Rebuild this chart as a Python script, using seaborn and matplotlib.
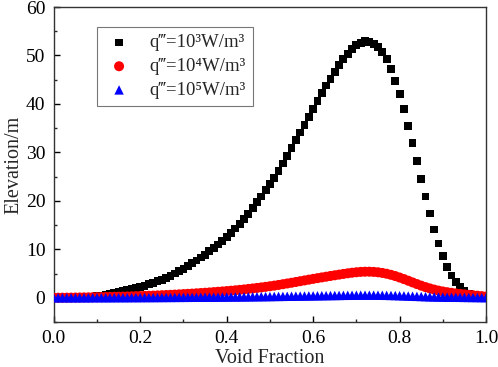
import numpy as np
import pandas as pd
import matplotlib
matplotlib.use("Agg")
import matplotlib.pyplot as plt
import seaborn as sns
from matplotlib.ticker import MultipleLocator

void_fraction = [0.00, 0.01, 0.02, 0.03, 0.04, 0.05, 0.06, 0.07, 0.08, 0.09,
                 0.10, 0.11, 0.12, 0.13, 0.14, 0.15, 0.16, 0.17, 0.18, 0.19,
                 0.20, 0.21, 0.22, 0.23, 0.24, 0.25, 0.26, 0.27, 0.28, 0.29,
                 0.30, 0.31, 0.32, 0.33, 0.34, 0.35, 0.36, 0.37, 0.38, 0.39,
                 0.40, 0.41, 0.42, 0.43, 0.44, 0.45, 0.46, 0.47, 0.48, 0.49,
                 0.50, 0.51, 0.52, 0.53, 0.54, 0.55, 0.56, 0.57, 0.58, 0.59,
                 0.60, 0.61, 0.62, 0.63, 0.64, 0.65, 0.66, 0.67, 0.68, 0.69,
                 0.70, 0.71, 0.72, 0.73, 0.74, 0.75, 0.76, 0.77, 0.78, 0.79,
                 0.80, 0.81, 0.82, 0.83, 0.84, 0.85, 0.86, 0.87, 0.88, 0.89,
                 0.90, 0.91, 0.92, 0.93, 0.94, 0.95, 0.96, 0.97, 0.98, 0.99, 1.00]

elev_q1e3 = [0.00, 0.00, 0.01, 0.02, 0.03, 0.05, 0.08, 0.12, 0.17, 0.25,
             0.35, 0.45, 0.60, 0.80, 1.00, 1.20, 1.40, 1.60, 1.80, 2.00,
             2.20, 2.50, 2.80, 3.10, 3.40, 3.70, 4.10, 4.50, 5.00, 5.50,
             6.00, 6.50, 7.10, 7.70, 8.30, 8.90, 9.60, 10.3, 11.0, 11.7,
             12.5, 13.4, 14.3, 15.3, 16.3, 17.3, 18.5, 19.7, 20.9, 22.2,
             23.5, 24.8, 26.2, 27.7, 29.3, 30.9, 32.5, 34.1, 35.7, 37.3,
             39.0, 40.6, 42.2, 43.8, 45.2, 46.6, 48.0, 49.2, 50.3, 51.3,
             52.1, 52.6, 52.9, 52.8, 52.4, 51.7, 50.7, 49.2, 47.2, 44.8,
             42.0, 38.9, 35.5, 32.0, 28.2, 24.5, 20.9, 17.4, 14.1, 11.2,
             8.60, 6.40, 4.60, 3.20, 2.20, 1.40, 0.85, 0.45, 0.20, 0.06, 0.00]

elev_q1e4 = [0.00, 0.01, 0.02, 0.03, 0.04, 0.05, 0.06, 0.08, 0.09, 0.11,
             0.12, 0.14, 0.16, 0.18, 0.20, 0.22, 0.24, 0.27, 0.30, 0.33,
             0.36, 0.39, 0.42, 0.45, 0.49, 0.53, 0.57, 0.61, 0.66, 0.71,
             0.76, 0.81, 0.86, 0.92, 0.98, 1.04, 1.10, 1.17, 1.24, 1.31,
             1.38, 1.46, 1.54, 1.63, 1.72, 1.82, 1.92, 2.03, 2.14, 2.26,
             2.38, 2.51, 2.65, 2.80, 2.95, 3.10, 3.26, 3.42, 3.58, 3.74,
             3.90, 4.05, 4.20, 4.35, 4.50, 4.64, 4.78, 4.92, 5.05, 5.17,
             5.27, 5.34, 5.38, 5.38, 5.34, 5.26, 5.13, 4.96, 4.74, 4.48,
             4.18, 3.86, 3.52, 3.17, 2.83, 2.50, 2.20, 1.93, 1.69, 1.48,
             1.30, 1.15, 1.02, 0.90, 0.80, 0.70, 0.61, 0.52, 0.43, 0.34, 0.25]

elev_q1e5 = [0.00, 0.01, 0.01, 0.01, 0.01, 0.01, 0.01, 0.01, 0.01, 0.02,
             0.02, 0.02, 0.02, 0.02, 0.03, 0.03, 0.03, 0.03, 0.04, 0.04,
             0.04, 0.05, 0.05, 0.05, 0.06, 0.06, 0.07, 0.07, 0.08, 0.08,
             0.09, 0.09, 0.10, 0.11, 0.11, 0.12, 0.13, 0.13, 0.14, 0.15,
             0.16, 0.17, 0.17, 0.18, 0.19, 0.20, 0.21, 0.22, 0.23, 0.24,
             0.25, 0.27, 0.28, 0.29, 0.31, 0.32, 0.34, 0.35, 0.37, 0.38,
             0.40, 0.41, 0.43, 0.44, 0.46, 0.47, 0.48, 0.50, 0.51, 0.52,
             0.53, 0.54, 0.54, 0.54, 0.54, 0.53, 0.52, 0.50, 0.48, 0.46,
             0.43, 0.40, 0.36, 0.33, 0.29, 0.26, 0.23, 0.20, 0.18, 0.16,
             0.14, 0.12, 0.11, 0.10, 0.09, 0.08, 0.07, 0.06, 0.05, 0.04, 0.03]

labels = ["q\u2034=10\u00b3W/m\u00b3",
          "q\u2034=10\u2074W/m\u00b3",
          "q\u2034=10\u2075W/m\u00b3"]

sns.set_style("ticks")
plt.rcParams["font.family"] = ["Liberation Serif", "DejaVu Serif"]
plt.rcParams["axes.linewidth"] = 1.0
plt.rcParams["axes.edgecolor"] = "#333333"

fig = plt.figure(figsize=(4.98, 3.67), dpi=100)
ax = fig.add_axes([0.108, 0.1226, 0.868, 0.8583])

series = [(elev_q1e3, "s", "black", 32, labels[0]),
          (elev_q1e4, "o", "red", 52, labels[1]),
          (elev_q1e5, "^", "blue", 46, labels[2])]
for vals, mk, col, sz, lab in series:
    df = pd.DataFrame({"x": void_fraction, "y": vals})
    sns.scatterplot(data=df, x="x", y="y", marker=mk, color=col, s=sz,
                    edgecolor="none", linewidth=0, label=lab, ax=ax, zorder=3)

ax.set_xlim(0, 1.0)
ax.set_ylim(-5, 60)
ax.xaxis.set_major_locator(MultipleLocator(0.2))
ax.xaxis.set_minor_locator(MultipleLocator(0.1))
ax.yaxis.set_major_locator(MultipleLocator(10))
ax.yaxis.set_minor_locator(MultipleLocator(5))
ax.set_xticklabels([f"{v:.1f}" for v in ax.get_xticks()])
ax.tick_params(axis="both", which="major", direction="in", length=4.5, width=1,
               labelsize=14, colors="black", top=False, right=False, pad=6)
ax.tick_params(axis="both", which="minor", direction="in", length=2.5, width=1,
               top=False, right=False)
for sp in ax.spines.values():
    sp.set_visible(True)
    sp.set_color("#333333")

ax.set_xlabel("Void Fraction", fontsize=14.5, labelpad=1.5)
ax.set_ylabel("Elevation/m", fontsize=14.5, labelpad=2)

leg = ax.legend(loc="upper left", bbox_to_anchor=(0.099, 0.937), borderaxespad=0,
                frameon=True, fancybox=False, fontsize=13.5, labelspacing=0.35,
                handletextpad=0.8, borderpad=0.4, handlelength=1.6,
                markerscale=1.0)
leg.get_frame().set_edgecolor("#555555")
leg.get_frame().set_linewidth(0.8)

fig.savefig("out.png", dpi=100)
